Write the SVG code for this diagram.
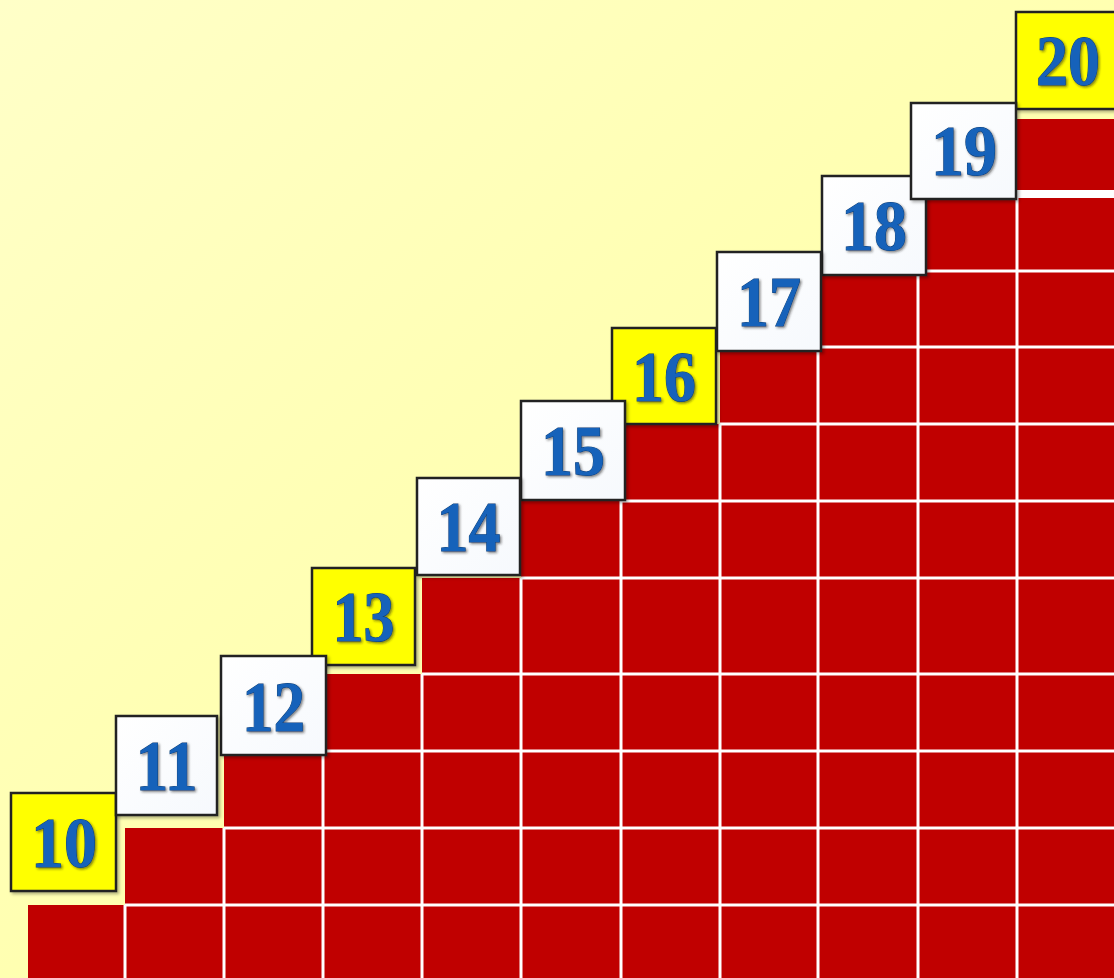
<svg xmlns="http://www.w3.org/2000/svg" width="1114" height="978" viewBox="0 0 1114 978">
<defs>
<linearGradient id="bg" x1="0" y1="0" x2="1" y2="1">
<stop offset="0" stop-color="#FFFFC8"/>
<stop offset="1" stop-color="#FFFF9A"/>
</linearGradient>
<linearGradient id="wfill" x1="0" y1="0" x2="1" y2="1">
<stop offset="0" stop-color="#FFFFFF"/>
<stop offset="1" stop-color="#F6F9FD"/>
</linearGradient>
<filter id="boxsh" x="-10%" y="-10%" width="125%" height="125%">
<feDropShadow dx="2" dy="2" stdDeviation="1.5" flood-color="#000" flood-opacity="0.3"/>
</filter>
<filter id="txtsh" x="-10%" y="-10%" width="125%" height="125%">
<feDropShadow dx="1.5" dy="1.5" stdDeviation="1.2" flood-color="#202020" flood-opacity="0.55"/>
</filter>
</defs>
<style>
.cell{fill:#C00000}
.grid{stroke:#FFFFFF;stroke-width:3;fill:none}
.box{stroke:#222222;stroke-width:2.5;filter:url(#boxsh)}
.y{fill:#FFFF00}
.w{fill:url(#wfill)}
.num{font-family:"Liberation Serif","Times New Roman",serif;font-weight:bold;font-size:71px;fill:#1462BA;stroke:#0E3F7A;stroke-width:1;paint-order:stroke;text-anchor:middle;filter:url(#txtsh)}
</style>
<rect x="0" y="0" width="1114" height="978" fill="url(#bg)"/>
<g id="stairs">
<path class="cell" d="M28,978 L28,905 L125,905 L125,828 L224,828 L224,751 L323,751 L323,674 L422,674 L422,578 L521,578 L521,501 L621,501 L621,424 L720,424 L720,347 L818,347 L818,271 L918,271 L918,195 L1017,195 L1017,119 L1114,119 L1114,978 Z"/>
<g class="grid">
<line x1="125" y1="905" x2="125" y2="978"/>
<line x1="224" y1="828" x2="224" y2="978"/>
<line x1="323" y1="751" x2="323" y2="978"/>
<line x1="422" y1="674" x2="422" y2="978"/>
<line x1="521" y1="578" x2="521" y2="978"/>
<line x1="621" y1="501" x2="621" y2="978"/>
<line x1="720" y1="424" x2="720" y2="978"/>
<line x1="818" y1="347" x2="818" y2="978"/>
<line x1="918" y1="271" x2="918" y2="978"/>
<line x1="1017" y1="195" x2="1017" y2="978"/>
<line x1="125" y1="905" x2="1114" y2="905"/>
<line x1="224" y1="828" x2="1114" y2="828"/>
<line x1="323" y1="751" x2="1114" y2="751"/>
<line x1="422" y1="674" x2="1114" y2="674"/>
<line x1="521" y1="578" x2="1114" y2="578"/>
<line x1="621" y1="501" x2="1114" y2="501"/>
<line x1="720" y1="424" x2="1114" y2="424"/>
<line x1="818" y1="347" x2="1114" y2="347"/>
<line x1="918" y1="271" x2="1114" y2="271"/>
</g>
<rect x="1017" y="190" width="97" height="8" fill="#FFFFFF"/>
</g>
<g id="n20"><rect class="box y" x="1016" y="12" width="104" height="97"/><text class="num" x="1068" y="85" textLength="64" lengthAdjust="spacingAndGlyphs">20</text></g>
<g id="n16"><rect class="box y" x="612" y="328" width="104" height="96"/><text class="num" x="664" y="401" textLength="64" lengthAdjust="spacingAndGlyphs">16</text></g>
<g id="n13"><rect class="box y" x="312" y="568" width="103" height="97"/><text class="num" x="363.5" y="641" textLength="62" lengthAdjust="spacingAndGlyphs">13</text></g>
<g id="n10"><rect class="box y" x="11" y="793" width="105" height="98"/><text class="num" x="64" y="867" textLength="66" lengthAdjust="spacingAndGlyphs">10</text></g>
<g id="n18"><rect class="box w" x="822" y="176" width="104" height="99"/><text class="num" x="874" y="250" textLength="66" lengthAdjust="spacingAndGlyphs">18</text></g>
<g id="n19"><rect class="box w" x="911" y="103" width="105" height="96"/><text class="num" x="964" y="175" textLength="66" lengthAdjust="spacingAndGlyphs">19</text></g>
<g id="n17"><rect class="box w" x="717" y="252" width="104" height="99"/><text class="num" x="769" y="326" textLength="64" lengthAdjust="spacingAndGlyphs">17</text></g>
<g id="n15"><rect class="box w" x="521" y="401" width="104" height="99"/><text class="num" x="573" y="475" textLength="64" lengthAdjust="spacingAndGlyphs">15</text></g>
<g id="n14"><rect class="box w" x="417" y="478" width="103" height="97"/><text class="num" x="468.5" y="551" textLength="64" lengthAdjust="spacingAndGlyphs">14</text></g>
<g id="n12"><rect class="box w" x="221" y="656" width="105" height="99"/><text class="num" x="273.5" y="731" textLength="63" lengthAdjust="spacingAndGlyphs">12</text></g>
<g id="n11"><rect class="box w" x="116" y="716" width="101" height="99"/><text class="num" x="166.5" y="790" textLength="62" lengthAdjust="spacingAndGlyphs">11</text></g>
</svg>
